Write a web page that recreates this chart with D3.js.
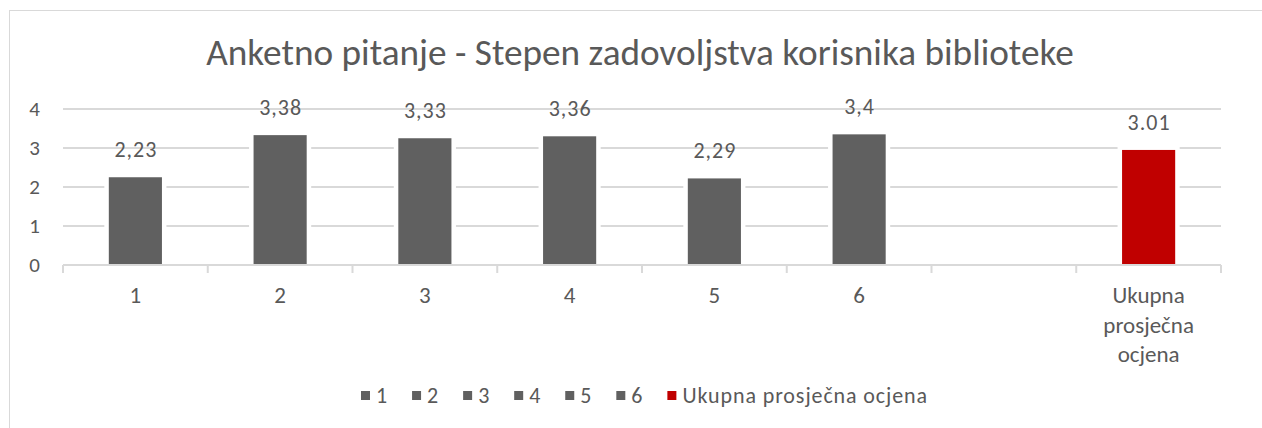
<!DOCTYPE html>
<html>
<head>
<meta charset="utf-8">
<script src="https://cdn.jsdelivr.net/npm/d3@7"></script>
<style>
  body { margin: 0; background: #fff; }
  text { font-family: Carlito, Calibri, "Open Sans", sans-serif; fill: #595959; }
</style>
</head>
<body>
<script>
// chart data
var categories = ['1', '2', '3', '4', '5', '6', '', 'Ukupna prosječna ocjena'];
var barValues = [2.25, 3.33, 3.25, 3.30, 2.22, 3.35, null, 2.95];
var barLabels = ['2,23', '3,38', '3,33', '3,36', '2,29', '3,4', '', '3.01'];
var barColors = ['#606060', '#606060', '#606060', '#606060', '#606060', '#606060', '#606060', '#c00000'];
var yTicks = [0, 1, 2, 3, 4];
var legendNames = ['1', '2', '3', '4', '5', '6', 'Ukupna prosječna ocjena'];
var legendColors = ['#606060', '#606060', '#606060', '#606060', '#606060', '#606060', '#c00000'];
var title = 'Anketno pitanje - Stepen zadovoljstva korisnika biblioteke';

var width = 1262, height = 428;

var svg = d3.select('body')
            .append('svg')
            .attr('width', width)
            .attr('height', height);

// outer frame
svg.append('rect')
   .attr('x', 9.5).attr('y', 10.5)
   .attr('width', width).attr('height', height)
   .style('fill', '#fff')
   .style('stroke', '#d9d9d9');

var x = d3.scaleBand()
          .domain(d3.range(categories.length))
          .range([63, 1221])
          .paddingInner(0)
          .paddingOuter(0);

var y = d3.scaleLinear()
          .domain([0, 4])
          .range([265, 109]);

var barW = x.bandwidth() * 0.367;

// title
var t = svg.append('text')
           .attr('x', 640)
           .attr('y', 65)
           .attr('text-anchor', 'middle')
           .style('font-size', '36px')
           .text(title);
var tw = t.node().getComputedTextLength();
t.style('font-size', (36 * 868 / tw) + 'px');

// gridlines
svg.append('g')
   .selectAll('line')
   .data(yTicks.filter(function(d){ return d > 0; }))
   .enter()
     .append('line')
     .attr('x1', 63).attr('x2', 1221)
     .attr('y1', function(d){ return y(d); })
     .attr('y2', function(d){ return y(d); })
     .style('stroke', '#d9d9d9')
     .style('stroke-width', 2);

// y tick labels
svg.append('g')
   .selectAll('text')
   .data(yTicks)
   .enter()
     .append('text')
     .attr('x', 40)
     .attr('y', function(d){ return y(d) + 7; })
     .attr('text-anchor', 'end')
     .style('font-size', '21px')
     .text(function(d){ return d; });

var bars = categories.map(function(c, i){
  return {i: i, v: barValues[i], label: barLabels[i], color: barColors[i]};
}).filter(function(d){ return d.v !== null; });

// bars with white halo cutting the gridlines
svg.append('g')
   .selectAll('rect')
   .data(bars)
   .enter()
     .append('rect')
     .attr('x', function(d){ return x(d.i) + (x.bandwidth() - barW) / 2; })
     .attr('y', function(d){ return y(d.v); })
     .attr('width', barW)
     .attr('height', function(d){ return y(0) - y(d.v); })
     .style('fill', function(d){ return d.color; })
     .style('stroke', '#fff')
     .style('stroke-width', 9)
     .style('paint-order', 'stroke');

// value labels
svg.append('g')
   .selectAll('text')
   .data(bars)
   .enter()
     .append('text')
     .attr('x', function(d){ return x(d.i) + x.bandwidth() / 2 + 0.5; })
     .attr('y', function(d){ return y(d.v) - 20; })
     .attr('text-anchor', 'middle')
     .style('font-size', '22px')
     .style('letter-spacing', '1px')
     .text(function(d){ return d.label; });

// x axis line + ticks
svg.append('line')
   .attr('x1', 63).attr('x2', 1221)
   .attr('y1', y(0)).attr('y2', y(0))
   .style('stroke', '#d9d9d9')
   .style('stroke-width', 2);

var tickPos = d3.range(categories.length).map(function(i){ return x(i); }).concat([x.range()[1]]);
svg.append('g')
   .selectAll('line')
   .data(tickPos)
   .enter()
     .append('line')
     .attr('x1', function(d){ return d; })
     .attr('x2', function(d){ return d; })
     .attr('y1', y(0)).attr('y2', y(0) + 8)
     .style('stroke', '#d9d9d9')
     .style('stroke-width', 2);

// x labels (wrapped like excel)
var xl = svg.append('g')
            .selectAll('text')
            .data(categories)
            .enter()
              .append('text')
              .attr('text-anchor', 'middle')
              .attr('y', 303)
              .style('font-size', '23px');
xl.each(function(d, i){
  var words = d.split(' ');
  var el = d3.select(this);
  words.forEach(function(w, k){
    el.append('tspan')
      .attr('x', x(i) + x.bandwidth() / 2)
      .attr('dy', k === 0 ? 0 : 29.5)
      .text(w);
  });
});

// legend
var lg = svg.append('g');
var lx = 361;
legendNames.forEach(function(name, i){
  lg.append('rect')
    .attr('x', lx).attr('y', 391)
    .attr('width', 9).attr('height', 9)
    .style('fill', legendColors[i]);
  var tx = lg.append('text')
             .attr('x', lx + 15)
             .attr('y', 402.5)
             .style('font-size', '22px')
             .style('letter-spacing', '0.9px')
             .text(name);
  lx = lx + 15 + tx.node().getComputedTextLength() + 24;
});
</script>
</body>
</html>
